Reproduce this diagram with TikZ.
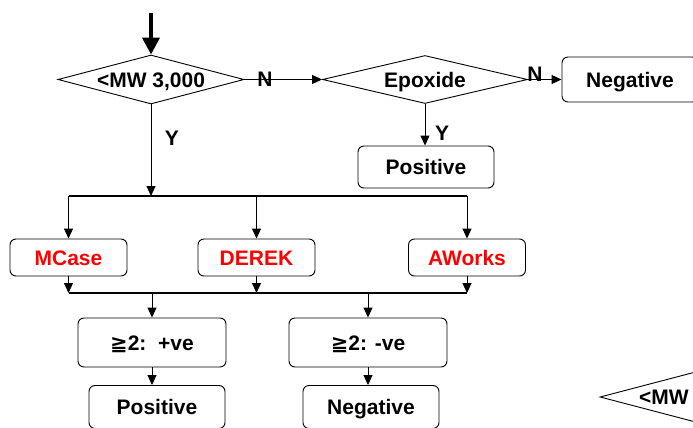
\documentclass[tikz,border=0pt]{standalone}
\usepackage{fontspec}
\setmainfont{Liberation Sans}
\newfontfamily\symfont{DejaVu Sans}
\usetikzlibrary{shapes.geometric,arrows.meta}
\begin{document}
\begin{tikzpicture}[x=1pt, y=-1pt, >={Triangle[length=10pt,width=9pt]},
    every node/.style={font=\bfseries\fontsize{21}{24}\selectfont, inner sep=0pt, text height=15pt, text depth=0pt},
    box/.style={draw, rounded corners=6pt, line width=0.9pt},
    dec/.style={draw, diamond, aspect=3.8, line width=0.9pt, minimum width=186pt, minimum height=49pt},
    tool/.style={box, text=red, minimum width=117pt, minimum height=37pt},
    res/.style={box, minimum width=136pt, minimum height=43pt}]
  \useasboundingbox (0,0) rectangle (693,428);
  \clip (0,0) rectangle (693,428);
  \node[dec] (mw) at (151,79.5) {<MW 3,000};
  \node[dec, minimum width=205pt, minimum height=48pt] (ep) at (425,79.5) {Epoxide};
  \node[res, minimum height=45pt] (neg) at (630,79.5) {Negative};
  \node[res, minimum height=42pt] (pos) at (426,167) {Positive};
  \node[tool] (mc) at (68.5,257.5) {MCase};
  \node[tool] (dk) at (256.5,257.5) {DEREK};
  \node[tool] (aw) at (467,257.5) {AWorks};
  \node[box, minimum width=148pt, minimum height=49pt] (p) at (152,342.5) {{\symfont ≧}2:\ \ +ve};
  \node[box, minimum width=158pt, minimum height=49pt] (n) at (368,342.5) {{\symfont ≧}2: -ve};
  \node[res] (pv) at (157,407) {Positive};
  \node[res] (nv) at (371,407) {Negative};
  \node[dec] (mw2) at (693,397) {<MW 3,000};
  \node (n1) at (265,79) {N};
  \node (y1) at (172,138) {Y};
  \node (n2) at (535,74) {N};
  \node (y2) at (442,133) {Y};
  \coordinate (in) at (151,13);
  \coordinate (b1) at (151,196);
  \coordinate (b2) at (151,293);

  \draw[line width=4pt, -{Triangle[length=17pt,width=17pt]}] (in) -- (mw.north);
  \draw[->, line width=0.9pt] (mw.east) -- (ep.west);
  \draw[->, line width=0.9pt] (ep.east) -- (neg.west);
  \draw[->, line width=0.9pt] (ep.south) -- (ep.south |- pos.north);
  \draw[->, line width=0.9pt] (mw.south) -- (b1);
  \draw[line width=2pt] (mc |- b1) -- (aw |- b1);
  \draw[line width=2pt] (mc |- b2) -- (aw |- b2);
  \foreach \t in {mc,dk,aw} {
    \draw[->, line width=0.9pt] (\t |- b1) -- (\t);
    \draw[->, line width=0.9pt] (\t) -- (\t |- b2);
  }
  \draw[->, line width=0.9pt] (p |- b2) -- (p);
  \draw[->, line width=0.9pt] (n |- b2) -- (n);
  \draw[->, line width=0.9pt] (p.south) -- (p.south |- pv.north);
  \draw[->, line width=0.9pt] (n.south) -- (n.south |- nv.north);
\end{tikzpicture}
\end{document}
